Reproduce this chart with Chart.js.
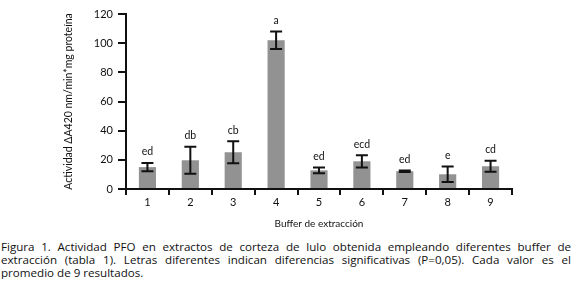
<!DOCTYPE html>
<html>
<head>
<meta charset="utf-8">
<script src="https://cdn.jsdelivr.net/npm/chart.js@4.4.1/dist/chart.umd.min.js"></script>
<style>
  html, body { margin: 0; padding: 0; background: #fff; }
  #wrap { position: relative; width: 573px; height: 232px; }
  #caption {
    width: 570px; margin: 8px 0 0 1px;
    font-family: "Open Sans", sans-serif; font-size: 11.6px; line-height: 13px;
    color: #111;
  }
  #caption div { white-space: nowrap; }
  #caption .full { text-align: justify; text-align-last: justify; }
</style>
</head>
<body>
<div id="wrap"><canvas id="barChart"></canvas></div>
<div id="caption">
  <div class="full">Figura 1. Actividad PFO en extractos de corteza de lulo obtenida empleando diferentes buffer de</div>
  <div class="full">extracción (tabla 1). Letras diferentes indican diferencias significativas (P=0,05). Cada valor es el</div>
  <div>promedio de 9 resultados.</div>
</div>
<script>
const buffers = ["1", "2", "3", "4", "5", "6", "7", "8", "9"];
const actividad = [15, 19.7, 25.2, 102, 12.8, 19, 12.2, 10.1, 15.6];
const errores = [2.8, 9.2, 7.6, 6, 2, 4.2, 0.5, 5.3, 3.7];
const letras = ["ed", "db", "cb", "a", "ed", "ecd", "ed", "e", "cd"];
const yTicks = [0, 20, 40, 60, 80, 100, 120];

const errorBars = {
    id: "errorBars",
    afterDatasetsDraw(chart) {
        const ctx = chart.ctx;
        const y = chart.scales.y;
        const meta = chart.getDatasetMeta(0);
        ctx.save();
        ctx.strokeStyle = "#111";
        ctx.lineWidth = 2;
        ctx.fillStyle = "#111";
        ctx.font = "10.5px Lato, sans-serif";
        ctx.textAlign = "center";
        ctx.textBaseline = "middle";
        meta.data.forEach((bar, i) => {
            const hi = y.getPixelForValue(actividad[i] + errores[i]);
            const lo = y.getPixelForValue(actividad[i] - errores[i]);
            const x = bar.x;
            ctx.beginPath();
            ctx.moveTo(x, hi); ctx.lineTo(x, lo);
            ctx.moveTo(x - 6, hi); ctx.lineTo(x + 6, hi);
            ctx.moveTo(x - 6, lo); ctx.lineTo(x + 6, lo);
            ctx.stroke();
            ctx.fillText(letras[i], x, hi - 11);
        });
        ctx.restore();
    },
};

const barChart = document.querySelector("#barChart").getContext("2d");

new Chart(barChart, {
    type: "bar",
    data: {
        labels: buffers,
        datasets: [
            {
                data: actividad,
                backgroundColor: "#929292",
                borderWidth: 0,
                barPercentage: 0.4,
                categoryPercentage: 1,
            },
        ],
    },
    options: {
        responsive: true,
        maintainAspectRatio: false,
        animation: false,
        layout: { padding: { left: 60, right: 61, top: 14, bottom: 0 } },
        plugins: { legend: { display: false }, tooltip: { enabled: false } },
        scales: {
            x: {
                grid: { offset: true, drawOnChartArea: false, color: "#111", lineWidth: 2, tickLength: 6 },
                border: { color: "#111", width: 2 },
                ticks: { color: "#111", font: { family: "Lato", size: 11 }, padding: 1 },
                title: {
                    display: true,
                    text: "Buffer de extracción",
                    color: "#111",
                    font: { family: "Lato", size: 10 },
                    padding: { top: 0, bottom: 2 },
                },
                afterFit(scale) { scale.height = 43; },
            },
            y: {
                min: 0,
                max: 120,
                afterBuildTicks(scale) { scale.ticks = yTicks.map(v => ({ value: v })); },
                grid: { drawOnChartArea: false, color: "#111", lineWidth: 2, tickLength: 8 },
                border: { color: "#111", width: 2 },
                ticks: { color: "#111", font: { family: "Lato", size: 11 }, padding: 5 },
                title: {
                    display: true,
                    text: "Actividad ΔA420 nm/min*mg proteína",
                    color: "#111",
                    font: { family: "Lato", size: 10.5 },
                    padding: { top: 2, bottom: 0 },
                },
                afterFit(scale) { scale.width = 66; },
            },
        },
    },
    plugins: [errorBars],
});
</script>
</body>
</html>
